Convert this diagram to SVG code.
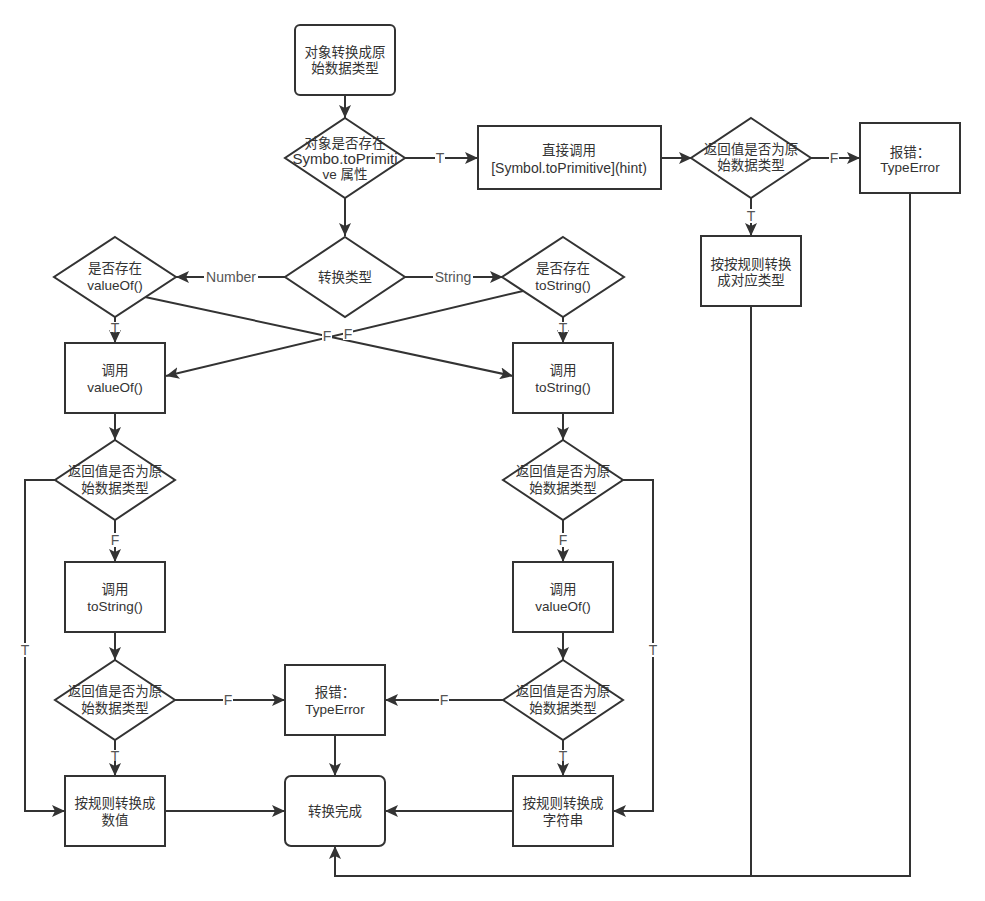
<svg xmlns="http://www.w3.org/2000/svg" width="985" height="901" viewBox="0 0 985 901">
<style>
.n{fill:#fff;stroke:#333;stroke-width:2}
.t{font-family:"Liberation Sans","Noto Sans CJK SC",sans-serif;font-size:13.5px;fill:#333;text-anchor:middle}
.c{fill:none;stroke:#333;stroke-width:2}
.l{font-family:"Liberation Sans","Noto Sans CJK SC",sans-serif;font-size:14px;fill:#555;text-anchor:middle}
.lb{fill:#fff}
</style>
<defs>
<marker id="a" markerUnits="userSpaceOnUse" markerWidth="14" markerHeight="12" viewBox="0 0 14 12" refX="13" refY="6" orient="auto">
<path d="M0,0 L13,6 L0,12 L3,6 z" fill="#333"/>
</marker>
</defs>
<rect width="985" height="901" fill="#fff"/>
<g id="connectors">
<path class="c" d="M345,95 V118" marker-end="url(#a)"/>
<path class="c" d="M405,158 H478" marker-end="url(#a)"/>
<path class="c" d="M661,158 H692" marker-end="url(#a)"/>
<path class="c" d="M811,158 H860" marker-end="url(#a)"/>
<path class="c" d="M751,198 V236" marker-end="url(#a)"/>
<path class="c" d="M345,198 V236" marker-end="url(#a)"/>
<path class="c" d="M285,277 H176" marker-end="url(#a)"/>
<path class="c" d="M405,277 H503" marker-end="url(#a)"/>
<path class="c" d="M115,317 V343" marker-end="url(#a)"/>
<path class="c" d="M563,317 V343" marker-end="url(#a)"/>
<path class="c" d="M145,297 L513,376" marker-end="url(#a)"/>
<path class="c" d="M523,291 L166,376" marker-end="url(#a)"/>
<path class="c" d="M115,413 V440" marker-end="url(#a)"/>
<path class="c" d="M563,413 V440" marker-end="url(#a)"/>
<path class="c" d="M115,520 V562" marker-end="url(#a)"/>
<path class="c" d="M563,520 V562" marker-end="url(#a)"/>
<path class="c" d="M55,480 H25 V811 H65" marker-end="url(#a)"/>
<path class="c" d="M623,480 H653 V811 H613" marker-end="url(#a)"/>
<path class="c" d="M115,632 V660" marker-end="url(#a)"/>
<path class="c" d="M563,632 V660" marker-end="url(#a)"/>
<path class="c" d="M175,700 H285" marker-end="url(#a)"/>
<path class="c" d="M503,700 H385" marker-end="url(#a)"/>
<path class="c" d="M115,740 V776" marker-end="url(#a)"/>
<path class="c" d="M563,740 V776" marker-end="url(#a)"/>
<path class="c" d="M335,735 V776" marker-end="url(#a)"/>
<path class="c" d="M165,811 H285" marker-end="url(#a)"/>
<path class="c" d="M513,811 H385" marker-end="url(#a)"/>
<path class="c" d="M910,193 V876 H335 V846" marker-end="url(#a)"/>
<path class="c" d="M751,306 V876"/>
<g id="labels">
<rect class="lb" x="435" y="151" width="10" height="14"/><text class="l" x="440" y="163">T</text>
<rect class="lb" x="829" y="151" width="10" height="14"/><text class="l" x="834" y="163">F</text>
<rect class="lb" x="746" y="209" width="10" height="14"/><text class="l" x="751" y="221">T</text>
<rect class="lb" x="204" y="270" width="54" height="14"/><text class="l" x="231" y="282">Number</text>
<rect class="lb" x="433" y="270" width="40" height="14"/><text class="l" x="453" y="282">String</text>
<rect class="lb" x="110" y="322" width="10" height="10"/><text class="l" x="115" y="333">T</text>
<rect class="lb" x="558" y="322" width="10" height="10"/><text class="l" x="563" y="333">T</text>
<rect class="lb" x="322" y="330" width="10" height="12"/><text class="l" x="327" y="341">F</text>
<rect class="lb" x="343" y="328" width="10" height="12"/><text class="l" x="348" y="339">F</text>
<rect class="lb" x="110" y="533" width="10" height="14"/><text class="l" x="115" y="545">F</text>
<rect class="lb" x="558" y="533" width="10" height="14"/><text class="l" x="563" y="545">F</text>
<rect class="lb" x="20" y="643" width="10" height="14"/><text class="l" x="25" y="655">T</text>
<rect class="lb" x="648" y="643" width="10" height="14"/><text class="l" x="653" y="655">T</text>
<rect class="lb" x="223" y="693" width="10" height="14"/><text class="l" x="228" y="705">F</text>
<rect class="lb" x="439" y="693" width="10" height="14"/><text class="l" x="444" y="705">F</text>
<rect class="lb" x="110" y="750" width="10" height="11"/><text class="l" x="115" y="761">T</text>
<rect class="lb" x="558" y="750" width="10" height="11"/><text class="l" x="563" y="761">T</text>
</g>
</g>
<g id="start"><rect class="n" x="295" y="25" width="100" height="70" rx="5"/><text class="t" x="345" y="57">对象转换成原</text><text class="t" x="345" y="73">始数据类型</text></g>
<g id="hasToPrimitive"><path class="n" d="M345,118 L405,158 L345,198 L285,158 z"/><text class="t" x="345" y="148">对象是否存在</text><text class="t" x="345" y="164" style="font-size:15px">Symbo.toPrimiti</text><text class="t" x="345" y="179">ve 属性</text></g>
<g id="callToPrimitive"><rect class="n" x="478" y="126" width="183" height="63"/><text class="t" x="569" y="155">直接调用</text><text class="t" x="569" y="173" style="font-size:14px">[Symbol.toPrimitive](hint)</text></g>
<g id="isPrimitive0"><path class="n" d="M751,118 L811,158 L751,198 L691,158 z"/><text class="t" x="751" y="154">返回值是否为原</text><text class="t" x="751" y="170">始数据类型</text></g>
<g id="error0"><rect class="n" x="860" y="123" width="100" height="70"/><text class="t" x="910" y="157">报错：</text><text class="t" x="910" y="172">TypeError</text></g>
<g id="convertHint"><rect class="n" x="701" y="236" width="100" height="70"/><text class="t" x="751" y="269">按按规则转换</text><text class="t" x="751" y="285">成对应类型</text></g>
<g id="hint"><path class="n" d="M345,237 L405,277 L345,317 L285,277 z"/><text class="t" x="345" y="282">转换类型</text></g>
<g id="hasValueOf"><path class="n" d="M115,237 L176,277 L115,317 L54,277 z"/><text class="t" x="115" y="273">是否存在</text><text class="t" x="115" y="290">valueOf()</text></g>
<g id="hasToString"><path class="n" d="M563,237 L624,277 L563,317 L502,277 z"/><text class="t" x="563" y="273">是否存在</text><text class="t" x="563" y="290">toString()</text></g>
<g id="callValueOf1"><rect class="n" x="65" y="343" width="100" height="70"/><text class="t" x="115" y="375">调用</text><text class="t" x="115" y="392">valueOf()</text></g>
<g id="callToString1"><rect class="n" x="513" y="343" width="100" height="70"/><text class="t" x="563" y="375">调用</text><text class="t" x="563" y="392">toString()</text></g>
<g id="isPrimitive1"><path class="n" d="M115,440 L175,480 L115,520 L55,480 z"/><text class="t" x="115" y="476">返回值是否为原</text><text class="t" x="115" y="493">始数据类型</text></g>
<g id="isPrimitive2"><path class="n" d="M563,440 L623,480 L563,520 L503,480 z"/><text class="t" x="563" y="476">返回值是否为原</text><text class="t" x="563" y="493">始数据类型</text></g>
<g id="callToString2"><rect class="n" x="65" y="562" width="100" height="70"/><text class="t" x="115" y="594">调用</text><text class="t" x="115" y="611">toString()</text></g>
<g id="callValueOf2"><rect class="n" x="513" y="562" width="100" height="70"/><text class="t" x="563" y="594">调用</text><text class="t" x="563" y="611">valueOf()</text></g>
<g id="isPrimitive3"><path class="n" d="M115,660 L175,700 L115,740 L55,700 z"/><text class="t" x="115" y="696">返回值是否为原</text><text class="t" x="115" y="713">始数据类型</text></g>
<g id="isPrimitive4"><path class="n" d="M563,660 L623,700 L563,740 L503,700 z"/><text class="t" x="563" y="696">返回值是否为原</text><text class="t" x="563" y="713">始数据类型</text></g>
<g id="error1"><rect class="n" x="285" y="665" width="100" height="70"/><text class="t" x="335" y="697">报错：</text><text class="t" x="335" y="714">TypeError</text></g>
<g id="toNumber"><rect class="n" x="65" y="776" width="100" height="70"/><text class="t" x="115" y="808">按规则转换成</text><text class="t" x="115" y="825">数值</text></g>
<g id="done"><rect class="n" x="285" y="776" width="100" height="70" rx="6"/><text class="t" x="335" y="816">转换完成</text></g>
<g id="toString"><rect class="n" x="513" y="776" width="100" height="70"/><text class="t" x="563" y="808">按规则转换成</text><text class="t" x="563" y="825">字符串</text></g>
</svg>
